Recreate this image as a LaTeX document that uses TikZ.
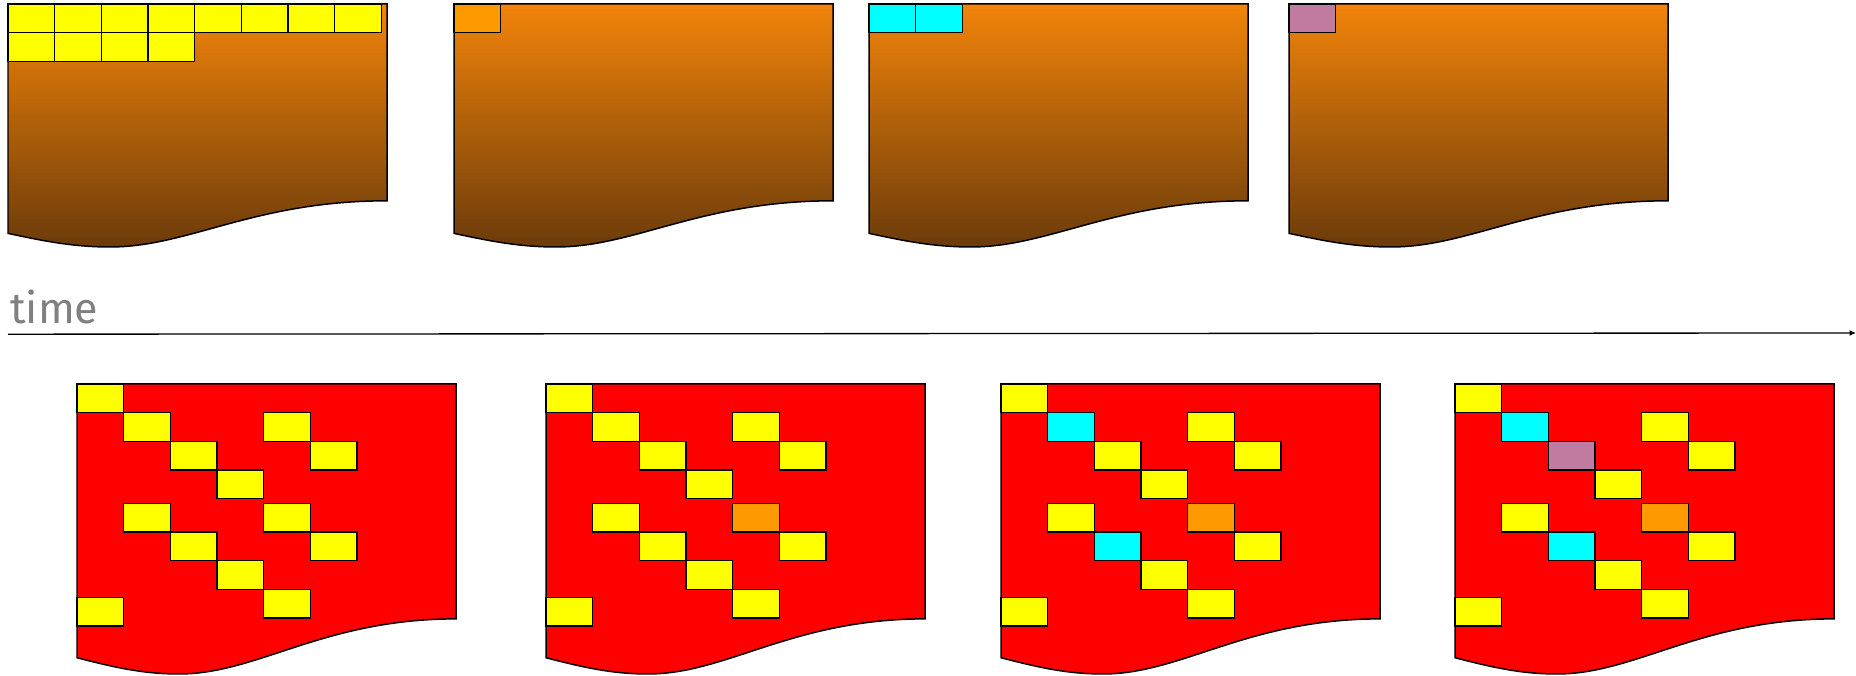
\documentclass[tikz,border=0pt]{standalone}
\usepackage{fontspec}
\usetikzlibrary{arrows.meta}
\newfontfamily\labelfont{Fira Sans}
\definecolor{Mark}{HTML}{FFFF00}
\definecolor{Tangerine}{HTML}{FF9900}
\definecolor{Aqua}{HTML}{00FFFF}
\definecolor{Mauve}{HTML}{C27BA0}
\definecolor{Sheet}{HTML}{FF0000}
\definecolor{DocTop}{HTML}{F2840A}
\definecolor{DocBottom}{HTML}{6C3B0A}
\definecolor{TimeGray}{HTML}{808080}

% one page: top-left corner, height, style
\newcommand{\docsheet}[3]{%
  \begin{scope}[shift={(#1)}]
    \draw[#3] (0,0) -- (7.58,0) -- (7.58,-0.81*#2)
      .. controls (4.92,-0.81*#2) and (3.62,-#2) .. (2.04,-#2)
      .. controls (1.30,-#2) and (0.70,-0.975*#2) .. (0,-0.944*#2) -- cycle;
  \end{scope}}
% one block: page, column, row, colour
\newcommand{\blk}[4]{%
  \draw[block, fill=#4] ([shift={(#2*0.9333,-#3*0.5733)}]#1) rectangle ++(0.9333,-0.5733);}
% the yellow blocks of a data page
\newcommand{\basegrid}[1]{%
  \foreach \cx/\ry in {0/0,1/1,2/2,3/3,4/1,5/2,1/4.16,2/5.16,3/6.16,4/7.16,4/4.16,5/5.16,0/7.44}
    {\blk{#1}{\cx}{\ry}{Mark}}}

\begin{document}
\begin{tikzpicture}[
    x=1cm,y=1cm,
    logpage/.style={draw=black, line width=0.85pt, top color=DocTop, bottom color=DocBottom},
    datapage/.style={draw=black, line width=0.85pt, fill=Sheet},
    block/.style={draw=black, line width=0.75pt},
    timelabel/.style={font=\labelfont\fontsize{24.5}{29}\selectfont, text=TimeGray,
      inner sep=0pt, anchor=base west},
    timeline/.style={-{Latex[length=0.13cm,width=0.12cm]}, line width=0.75pt, color=black}
  ]
    \useasboundingbox (0,0) rectangle (37.12,13.52);

    % log pages
    \coordinate (log1) at (0.16,13.44);
    \coordinate (log2) at (9.08,13.44);
    \coordinate (log3) at (17.38,13.44);
    \coordinate (log4) at (25.78,13.44);
    \docsheet{log1}{4.86}{logpage}
    \docsheet{log2}{4.86}{logpage}
    \docsheet{log3}{4.86}{logpage}
    \docsheet{log4}{4.86}{logpage}

    \foreach \cx in {0,...,7} {\blk{log1}{\cx}{0}{Mark}}
    \foreach \cx in {0,...,3} {\blk{log1}{\cx}{1}{Mark}}
    \blk{log2}{0}{0}{Tangerine}
    \blk{log3}{0}{0}{Aqua}
    \blk{log3}{1}{0}{Aqua}
    \blk{log4}{0}{0}{Mauve}

    % time axis
    \node[timelabel] (time) at (0.2,7.04) {time};
    \coordinate (tstart) at (0.16,6.836);
    \coordinate (tend) at (37.12,6.86);
    \draw[timeline] (tstart) -- (tend);

    % data pages
    \coordinate (data1) at (1.54,5.84);
    \coordinate (data2) at (10.92,5.84);
    \coordinate (data3) at (20.02,5.84);
    \coordinate (data4) at (29.10,5.84);
    \docsheet{data1}{5.8}{datapage}
    \docsheet{data2}{5.8}{datapage}
    \docsheet{data3}{5.8}{datapage}
    \docsheet{data4}{5.8}{datapage}

    \basegrid{data1}
    \basegrid{data2}
    \basegrid{data3}
    \basegrid{data4}

    \blk{data2}{4}{4.16}{Tangerine}
    \blk{data3}{1}{1}{Aqua}
    \blk{data3}{2}{5.16}{Aqua}
    \blk{data3}{4}{4.16}{Tangerine}
    \blk{data4}{1}{1}{Aqua}
    \blk{data4}{2}{2}{Mauve}
    \blk{data4}{2}{5.16}{Aqua}
    \blk{data4}{4}{4.16}{Tangerine}
  \end{tikzpicture}
\end{document}
